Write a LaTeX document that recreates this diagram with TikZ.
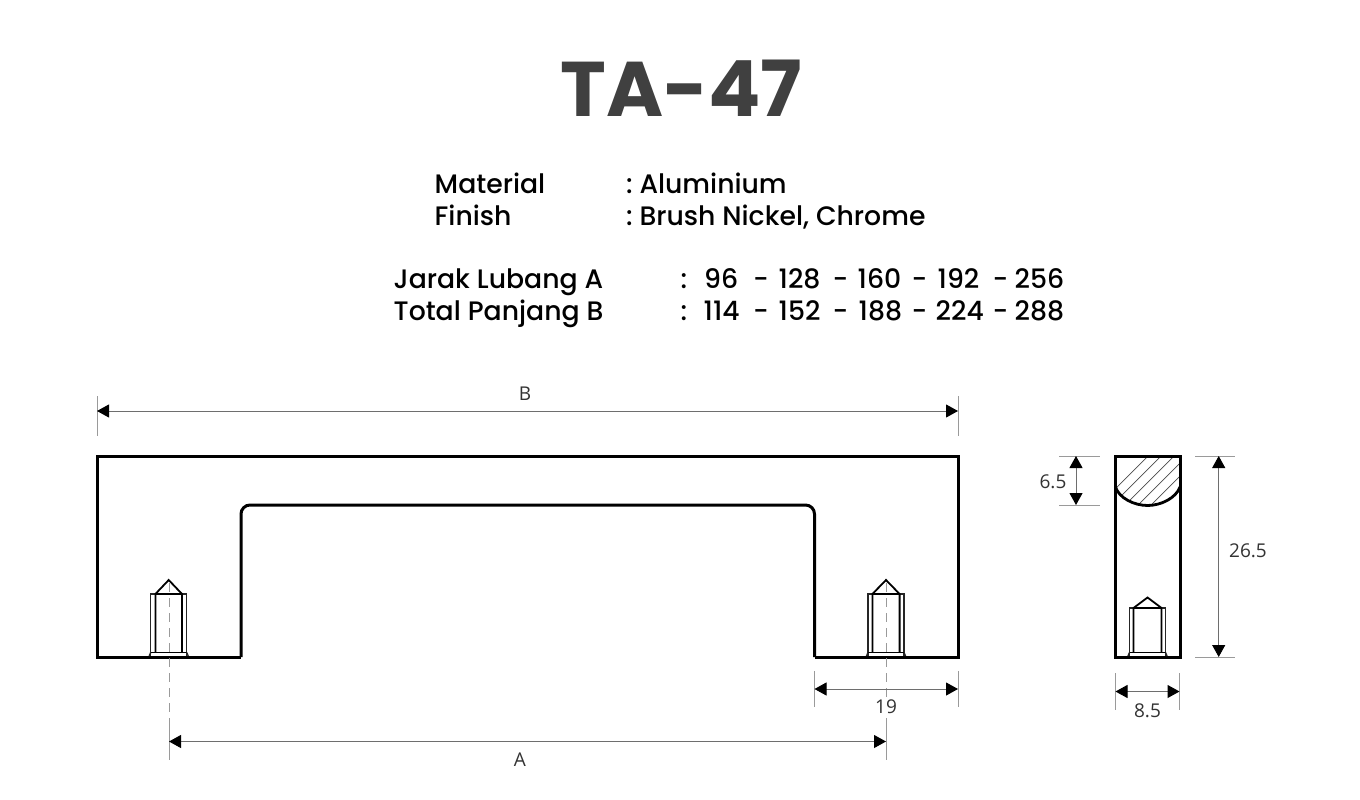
\documentclass[tikz,border=0pt]{standalone}
\usepackage{fontspec}
\usetikzlibrary{arrows.meta}
\setmainfont{Poppins}
\newfontfamily\pmedium{Poppins Medium}
\newfontfamily\dimfont{Open Sans}
\definecolor{titlegray}{HTML}{404040}
\definecolor{dimgray}{HTML}{6E6E6E}
\definecolor{tickgray}{HTML}{9A9A9A}
\definecolor{dimtext}{HTML}{333333}
\tikzset{
  x=1pt,y=-1pt,
  titletext/.style={inner sep=0pt,text=titlegray,font=\fontsize{77.5}{78}\selectfont\bfseries},
  spec/.style={inner sep=0pt,anchor=base west,text=black,font=\pmedium\fontsize{26.7}{27}\selectfont},
  dimlabel/.style={inner sep=0pt,text=dimtext,font=\dimfont\fontsize{19}{19}\selectfont},
  part/.style={draw=black,line width=3pt,line join=miter},
  screw/.style={draw=black!85,line width=1.4pt},
  screwbold/.style={draw=black,line width=1.8pt},
  dimline/.style={draw=dimgray,line width=1pt,{Triangle[length=12pt,width=13pt,color=black]}-{Triangle[length=12pt,width=13pt,color=black]}},
  ticks/.style={draw=tickgray,line width=1pt},
  center/.style={draw=tickgray,line width=1pt,dash pattern=on 9pt off 6pt},
  hatching/.style={draw=black!70,line width=.7pt},
}
\newcommand{\screwat}[6]{% centre, outer half-width, inner half-width, top, apex, bottom
  \draw[screw] (#1-#2,#6) -- (#1-#2,#4) -- (#1+#2,#4) -- (#1+#2,#6);
  \draw[screwbold] (#1-#3,#6-3.5) -- (#1-#3,#4) -- (#1,#5) -- (#1+#3,#4) -- (#1+#3,#6-3.5);
  \draw[screwbold] (#1-#3,#4) -- (#1+#3,#4);
  \draw[screwbold] (#1-#2,#6-3.5) -- (#1+#2,#6-3.5);
  \draw[screw] (#1-#2,#6-3.5) -- (#1-#2-1.5,#6) (#1+#2,#6-3.5) -- (#1+#2+1.5,#6);
}
\newcommand{\atx}[2]{\rlap{\hspace{#1pt}#2}}
\begin{document}
\begin{tikzpicture}
\useasboundingbox (0,0) rectangle (1360,800);
\fill[white] (0,0) rectangle (1360,800);

\node[titletext] (title) at (681.5,88) {TA-47};

\node[spec] (mat) at (434.5,193) {Material};
\node[spec] (matv) at (626,193) {:\hspace{-2.5pt} Aluminium};
\node[spec] (fin) at (434.5,225) {Finish};
\node[spec] (finv) at (626,225) {:\hspace{-2.5pt} Brush Nickel, Chrome};
\node[spec] (jarak) at (393.5,288) {Jarak Lubang A};
\node[spec] (total) at (393.5,320) {Total Panjang B};
\node[spec] (jarakv) at (680,288) {\atx{0}{:}\atx{23.5}{96}\atx{72.5}{-}\atx{98}{128}\atx{152}{-}\atx{177}{160}\atx{231}{-}\atx{257}{192}\atx{312}{-}\atx{334}{256}};
\node[spec] (totalv) at (680,320) {\atx{0}{:}\atx{23}{114}\atx{72.5}{-}\atx{98}{152}\atx{152}{-}\atx{178}{188}\atx{231}{-}\atx{255}{224}\atx{312}{-}\atx{334}{288}};

% front view
\draw[part,rounded corners=9pt] (814.5,657) -- (814.5,505) -- (241,505) -- (241,657);
\draw[part] (814.5,657) -- (958,657) -- (958,456) -- (97,456) -- (97,657) -- (241,657);
\screwat{168.7}{18}{13.3}{594}{580}{656}
\screwat{886}{18}{13.6}{594}{580}{656}

% centre lines
\coordinate (cla) at (169,583);
\coordinate (clam) at (169,720);
\coordinate (clb) at (169,760);
\coordinate (cra) at (886,583);
\coordinate (cram) at (886,720);
\coordinate (crb) at (886,760);
\draw[center] (cla) -- (clam);
\draw[ticks] (clam) -- (clb);
\draw[center] (cra) -- (cram);
\draw[ticks] (cram) -- (crb);

% dimension B
\coordinate (bl) at (97,411);
\coordinate (br) at (958,411);
\draw[ticks] (97,396) -- (97,436) (958,396) -- (958,436);
\draw[dimline] (bl) -- (br);
\node[dimlabel] (lblb) at (525,394) {B};

% dimension 19
\coordinate (nl) at (814.5,689);
\coordinate (nr) at (958,689);
\draw[ticks] (814.5,671) -- (814.5,707) (958,671) -- (958,707);
\draw[dimline] (nl) -- (nr);
\node[dimlabel,fill=white,inner ysep=1pt] (lbln) at (886,707) {19};

% dimension A
\coordinate (al) at (169,741.5);
\coordinate (ar) at (886,741.5);
\draw[dimline] (al) -- (ar);
\node[dimlabel] (lbla) at (520,760) {A};

% side view
\begin{scope}
  \clip (1115.5,456) -- (1180,456) -- (1180,487)
    .. controls (1176,498) and (1161,505.5) .. (1147.7,505.5)
    .. controls (1134,505.5) and (1119,498) .. (1115.5,487) -- cycle;
  \foreach \d in {0,13,...,130}
    \draw[hatching] (1098+\d,506) -- (1098+\d+50,456);
\end{scope}
\draw[part,line width=2.8pt] (1115.5,487)
    .. controls (1119,498) and (1134,505.5) .. (1147.7,505.5)
    .. controls (1161,505.5) and (1176,498) .. (1180,487);
\draw[part] (1115.5,456) rectangle (1180,657);
\screwat{1147.5}{18}{14}{608}{597.5}{656}

% dimension 6.5
\coordinate (sa) at (1076,456);
\coordinate (sb) at (1076,505);
\draw[ticks] (1059,456) -- (1100,456) (1059,505.5) -- (1100,505.5);
\draw[dimline] (sa) -- (sb);
\node[dimlabel] (lbls) at (1053,482) {6.5};

% dimension 26.5
\coordinate (ta) at (1218.7,456);
\coordinate (tb) at (1218.7,657);
\draw[ticks] (1195,456) -- (1235,456) (1195,657) -- (1235,657);
\draw[dimline] (ta) -- (tb);
\node[dimlabel] (lblt) at (1248,551) {26.5};

% dimension 8.5
\coordinate (ea) at (1115.5,691.5);
\coordinate (eb) at (1179.5,691.5);
\draw[ticks] (1115.5,673) -- (1115.5,710) (1179.5,673) -- (1179.5,710);
\draw[dimline] (ea) -- (eb);
\node[dimlabel] (lble) at (1147.5,711) {8.5};
\end{tikzpicture}
\end{document}
